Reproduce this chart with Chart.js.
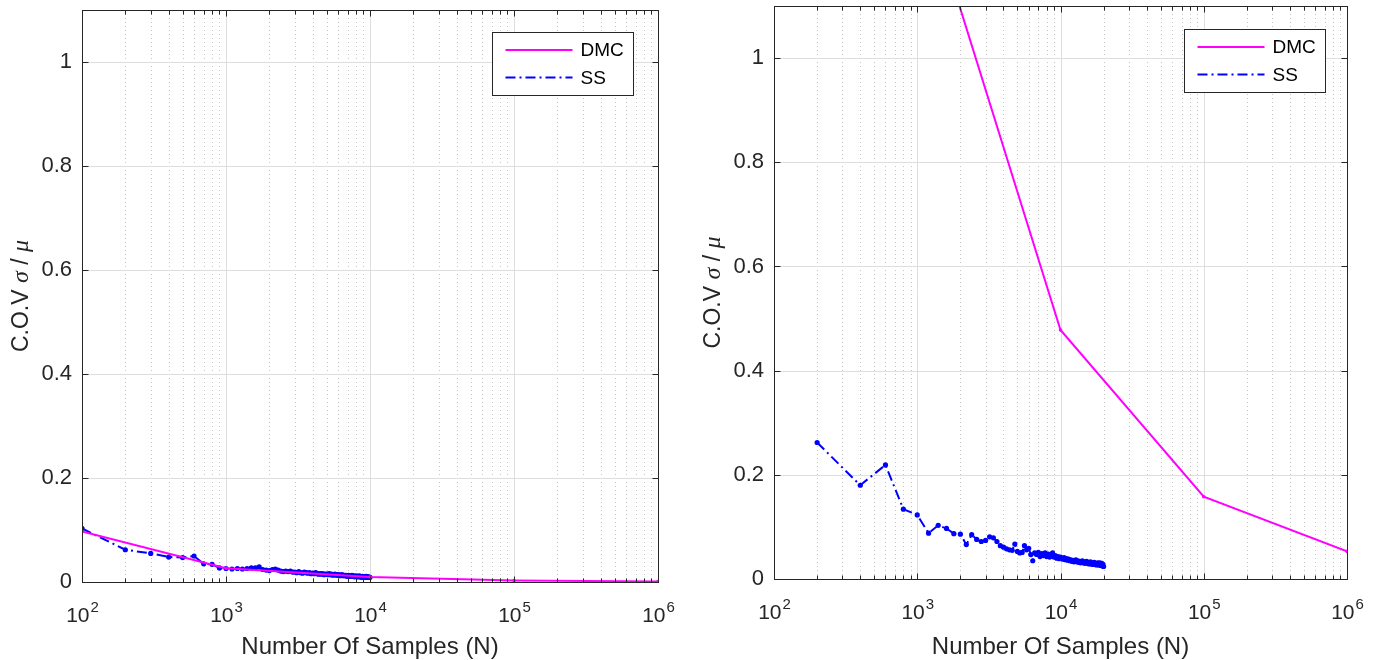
<!DOCTYPE html>
<html>
<head>
<meta charset="utf-8">
<title>C.O.V vs Number Of Samples</title>
<script src="https://cdn.jsdelivr.net/npm/chart.js@4.4.0/dist/chart.umd.min.js"></script>
<style>
  html, body { margin: 0; padding: 0; background: #fff; }
  #wrap { position: relative; width: 1379px; height: 660px; overflow: hidden; }
  canvas { position: absolute; top: 0; }
  #leftChart { left: 0; }
  #rightChart { left: 690px; }
</style>
</head>
<body>
<div id="wrap">
  <canvas id="leftChart" width="690" height="660"></canvas>
  <canvas id="rightChart" width="689" height="660"></canvas>
</div>
<script>
// Fonts / colours (MATLAB-ish defaults)
const FONT = "'Liberation Sans', Arial, Helvetica, sans-serif";
const MATH_FONT = "'Liberation Serif', 'Times New Roman', serif";
const AXIS_COLOR = '#262626';
const DMC_COLOR = '#ff00ff';
const SS_COLOR = '#0000ff';

// Axis ticks
const decades = [2, 3, 4, 5, 6];          // x ticks: 10^2 .. 10^6
const yTicks = [0, 0.2, 0.4, 0.6, 0.8, 1];
const seriesNames = ['DMC', 'SS'];
const xTitle = 'Number Of Samples (N)';

// ---- Left panel ----
const dmcLeftN = [100, 1000, 10000, 100000, 1000000];
const dmcLeftCov = [0.097, 0.0265, 0.0095, 0.003, 0.001];

const ssLeftN = [
    100, 200, 300, 400, 500, 600, 700, 800, 900, 1000,
    1100, 1200, 1300, 1400, 1500, 1600, 1700, 1800, 1900, 2000,
    2100, 2200, 2300, 2400, 2500, 2600, 2700, 2800, 2900, 3000,
    3100, 3200, 3300, 3400, 3500, 3600, 3700, 3800, 3900, 4000,
    4100, 4200, 4300, 4400, 4500, 4600, 4700, 4800, 4900, 5000,
    5100, 5200, 5300, 5400, 5500, 5600, 5700, 5800, 5900, 6000,
    6100, 6200, 6300, 6400, 6500, 6600, 6700, 6800, 6900, 7000,
    7100, 7200, 7300, 7400, 7500, 7600, 7700, 7800, 7900, 8000,
    8100, 8200, 8300, 8400, 8500, 8600, 8700, 8800, 8900, 9000,
    9100, 9200, 9300, 9400, 9500, 9600, 9700, 9800, 9900, 10000
];
const ssLeftCov = [
    0.103, 0.062, 0.055, 0.048, 0.047, 0.050, 0.035, 0.034, 0.027, 0.026,
    0.025, 0.026, 0.025, 0.026, 0.027, 0.027, 0.029, 0.024, 0.023, 0.022,
    0.024, 0.025, 0.023, 0.021, 0.020, 0.021, 0.020, 0.021, 0.019, 0.019,
    0.018, 0.020, 0.018, 0.017, 0.019, 0.018, 0.017, 0.018, 0.016, 0.017,
    0.016, 0.018, 0.016, 0.015, 0.016, 0.015, 0.016, 0.014, 0.015, 0.015,
    0.014, 0.016, 0.014, 0.015, 0.013, 0.014, 0.015, 0.013, 0.014, 0.013,
    0.014, 0.012, 0.013, 0.014, 0.012, 0.013, 0.012, 0.013, 0.011, 0.012,
    0.013, 0.011, 0.012, 0.011, 0.013, 0.011, 0.012, 0.010, 0.011, 0.012,
    0.010, 0.011, 0.010, 0.012, 0.010, 0.011, 0.009, 0.010, 0.011, 0.009,
    0.010, 0.009, 0.010, 0.011, 0.009, 0.010, 0.009, 0.010, 0.009, 0.009
];

// ---- Right panel ----
const dmcRightN = [1000, 10000, 100000, 1000000];
const dmcRightCov = [1.36, 0.478, 0.158, 0.053];

const ssRightN = [
    200, 400, 600, 800, 1000, 1200, 1400, 1600, 1800, 2000,
    2200, 2400, 2600, 2800, 3000, 3200, 3400, 3600, 3800, 4000,
    4200, 4400, 4600, 4800, 5000, 5200, 5400, 5600, 5800, 6000,
    6200, 6400, 6600, 6800, 7000, 7200, 7400, 7600, 7800, 8000,
    8200, 8400, 8600, 8800, 9000, 9200, 9400, 9600, 9800, 10000,
    10200, 10400, 10600, 10800, 11000, 11200, 11400, 11600, 11800, 12000,
    12200, 12400, 12600, 12800, 13000, 13200, 13400, 13600, 13800, 14000,
    14200, 14400, 14600, 14800, 15000, 15200, 15400, 15600, 15800, 16000,
    16200, 16400, 16600, 16800, 17000, 17200, 17400, 17600, 17800, 18000,
    18200, 18400, 18600, 18800, 19000, 19200, 19400, 19600, 19800, 20000
];
const ssRightCov = [
    0.262, 0.180, 0.219, 0.134, 0.123, 0.088, 0.103, 0.097, 0.087, 0.086,
    0.066, 0.085, 0.076, 0.072, 0.074, 0.081, 0.079, 0.072, 0.064, 0.061,
    0.058, 0.056, 0.055, 0.067, 0.053, 0.050, 0.051, 0.064, 0.056, 0.059,
    0.047, 0.035, 0.050, 0.047, 0.051, 0.043, 0.049, 0.045, 0.050, 0.043,
    0.048, 0.042, 0.046, 0.050, 0.042, 0.045, 0.040, 0.043, 0.039, 0.042,
    0.040, 0.038, 0.041, 0.037, 0.039, 0.036, 0.038, 0.035, 0.037, 0.034,
    0.036, 0.033, 0.035, 0.037, 0.033, 0.035, 0.032, 0.034, 0.031, 0.033,
    0.035, 0.031, 0.033, 0.030, 0.032, 0.034, 0.030, 0.032, 0.029, 0.031,
    0.033, 0.029, 0.031, 0.028, 0.030, 0.032, 0.028, 0.030, 0.027, 0.029,
    0.031, 0.027, 0.029, 0.031, 0.026, 0.028, 0.030, 0.025, 0.028, 0.024
];

function toPoints(xs, ys) {
    return xs.map((x, i) => ({ x: x, y: ys[i] }));
}

function strokeLine(ctx, x1, y1, x2, y2) {
    ctx.beginPath();
    ctx.moveTo(x1, y1);
    ctx.lineTo(x2, y2);
    ctx.stroke();
}

// all x tick values: majors 10^d plus minors m*10^d
function xTickValues() {
    const vals = [];
    decades.forEach((d, i) => {
        vals.push({ v: Math.pow(10, d), major: true });
        if (i < decades.length - 1) {
            for (let m = 2; m <= 9; m++) vals.push({ v: m * Math.pow(10, d), major: false });
        }
    });
    return vals;
}

/**
 * Draws the MATLAB look: dotted minor grid, inward ticks, box,
 * superscript tick labels, axis titles and the legend box
 */
const matlabAxes = {
    id: 'matlabAxes',
    beforeDatasetsDraw(chart) {
        const { ctx, chartArea: a, scales: { x, y } } = chart;
        ctx.save();
        ctx.lineWidth = 1;
        // minor x grid (dotted)
        ctx.strokeStyle = '#c4c4c4';
        ctx.setLineDash([1, 3]);
        xTickValues().filter(t => !t.major).forEach(t => {
            const px = Math.round(x.getPixelForValue(t.v)) + 0.5;
            strokeLine(ctx, px, a.top, px, a.bottom);
        });
        // major grid (solid)
        ctx.setLineDash([]);
        ctx.strokeStyle = '#dedede';
        xTickValues().filter(t => t.major).forEach(t => {
            const px = Math.round(x.getPixelForValue(t.v)) + 0.5;
            strokeLine(ctx, px, a.top, px, a.bottom);
        });
        yTicks.forEach(v => {
            const py = Math.round(y.getPixelForValue(v)) + 0.5;
            strokeLine(ctx, a.left, py, a.right, py);
        });
        ctx.restore();
    },
    afterDatasetsDraw(chart) {
        const { ctx, chartArea: a, scales: { x, y } } = chart;
        const L = Math.round(a.left) + 0.5, R = Math.round(a.right) + 0.5;
        const T = Math.round(a.top) + 0.5, B = Math.round(a.bottom) + 0.5;
        ctx.save();
        ctx.strokeStyle = AXIS_COLOR;
        ctx.lineWidth = 1;
        ctx.strokeRect(L, T, R - L, B - T);
        // inward ticks on all four sides
        xTickValues().forEach(t => {
            const px = Math.round(x.getPixelForValue(t.v)) + 0.5;
            const len = t.major ? 6 : 4;
            strokeLine(ctx, px, B, px, B - len);
            strokeLine(ctx, px, T, px, T + len);
        });
        yTicks.forEach(v => {
            const py = Math.round(y.getPixelForValue(v)) + 0.5;
            strokeLine(ctx, L, py, L + 6, py);
            strokeLine(ctx, R, py, R - 6, py);
        });
        ctx.restore();
    },
    afterDraw(chart, args, opts) {
        const { ctx, chartArea: a, scales: { x } } = chart;
        ctx.save();
        ctx.fillStyle = AXIS_COLOR;

        // x tick labels: 10 with superscript exponent
        decades.forEach(d => {
            const px = x.getPixelForValue(Math.pow(10, d));
            ctx.font = '21px ' + FONT;
            const wBase = ctx.measureText('10').width;
            ctx.font = '15px ' + FONT;
            const wExp = ctx.measureText(String(d)).width;
            const x0 = px - (wBase + wExp) / 2;
            ctx.textAlign = 'left';
            ctx.textBaseline = 'alphabetic';
            ctx.font = '21px ' + FONT;
            ctx.fillText('10', x0, a.bottom + 40);
            ctx.font = '15px ' + FONT;
            ctx.fillText(String(d), x0 + wBase + 1, a.bottom + 30);
        });

        // x axis title
        ctx.font = '24px ' + FONT;
        ctx.textAlign = 'center';
        ctx.fillText(xTitle, (a.left + a.right) / 2, chart.height - 6);

        // y axis title: C.O.V sigma / mu (greek in italic)
        const parts = [
            ['C.O.V ', '23px ' + FONT],
            ['\u03C3', 'italic 24px ' + MATH_FONT],
            [' / ', '23px ' + FONT],
            ['\u03BC', 'italic 24px ' + MATH_FONT]
        ];
        ctx.save();
        ctx.translate(a.left - 62, (a.top + a.bottom) / 2);
        ctx.rotate(-Math.PI / 2);
        let total = 0;
        parts.forEach(p => { ctx.font = p[1]; total += ctx.measureText(p[0]).width; });
        let cx = -total / 2;
        ctx.textAlign = 'left';
        parts.forEach(p => {
            ctx.font = p[1];
            ctx.fillText(p[0], cx, 8);
            cx += ctx.measureText(p[0]).width;
        });
        ctx.restore();

        // legend box
        const bw = 141, bh = 63;
        const bx = Math.round(a.right - opts.legendRight - bw) + 0.5;
        const by = Math.round(a.top + opts.legendTop) + 0.5;
        ctx.fillStyle = '#ffffff';
        ctx.fillRect(bx, by, bw, bh);
        ctx.strokeStyle = AXIS_COLOR;
        ctx.lineWidth = 1;
        ctx.strokeRect(bx, by, bw, bh);
        const rows = [
            { name: seriesNames[0], color: DMC_COLOR, dash: [], width: 2, y: by + 17.5 },
            { name: seriesNames[1], color: SS_COLOR, dash: [10, 4, 2, 4], width: 2, y: by + 45 }
        ];
        rows.forEach(r => {
            ctx.strokeStyle = r.color;
            ctx.lineWidth = r.width;
            ctx.setLineDash(r.dash);
            strokeLine(ctx, bx + 13, r.y, bx + 80, r.y);
            ctx.setLineDash([]);
            ctx.fillStyle = '#000000';
            ctx.font = '19px ' + FONT;
            ctx.textAlign = 'left';
            ctx.textBaseline = 'middle';
            ctx.fillText(r.name, bx + 88, r.y + 1);
        });
        ctx.restore();
    }
};

function makeChart(canvasId, dmcN, dmcCov, ssN, ssCov, geo) {
    const ctx = document.getElementById(canvasId);
    return new Chart(ctx.getContext('2d'), {
        type: 'line',
        data: {
            datasets: [
                {
                    label: seriesNames[0],
                    data: toPoints(dmcN, dmcCov),
                    borderColor: DMC_COLOR,
                    backgroundColor: DMC_COLOR,
                    borderWidth: 2,
                    pointRadius: 1.8,
                    pointBorderWidth: 0,
                    tension: 0,
                    fill: false
                },
                {
                    label: seriesNames[1],
                    data: toPoints(ssN, ssCov),
                    borderColor: SS_COLOR,
                    backgroundColor: SS_COLOR,
                    borderWidth: 2,
                    borderDash: [10, 4, 2, 4],
                    pointRadius: 2.6,
                    pointBorderWidth: 0,
                    tension: 0,
                    fill: false
                }
            ]
        },
        options: {
            responsive: false,
            animation: false,
            devicePixelRatio: 1,
            layout: {
                padding: { left: 0, right: geo.padRight, top: geo.padTop, bottom: 0 }
            },
            scales: {
                x: {
                    type: 'logarithmic',
                    position: 'bottom',
                    min: 100,
                    max: 1000000,
                    ticks: { display: false },
                    grid: { display: false, drawTicks: false },
                    border: { display: false },
                    afterFit: function(scale) {
                        scale.height = geo.xHeight;
                        scale.paddingLeft = 0;
                        scale.paddingRight = 0;
                    }
                },
                y: {
                    type: 'linear',
                    min: 0,
                    max: 1.1,
                    ticks: {
                        stepSize: 0.2,
                        padding: 10,
                        color: AXIS_COLOR,
                        font: { family: FONT, size: 22 },
                        callback: function(value) {
                            if (value === 0) return '0';
                            if (Math.abs(value - 1) < 1e-6) return '1';
                            return value.toFixed(1);
                        }
                    },
                    grid: { display: false, drawTicks: false },
                    border: { display: false },
                    afterBuildTicks: function(scale) {
                        scale.ticks = yTicks.map(v => ({ value: v }));
                    },
                    afterFit: function(scale) {
                        scale.width = geo.yWidth;
                        scale.paddingTop = 0;
                        scale.paddingBottom = 0;
                    }
                }
            },
            plugins: {
                legend: { display: false },
                tooltip: { enabled: false },
                matlabAxes: { legendRight: geo.legendRight, legendTop: geo.legendTop }
            }
        },
        plugins: [matlabAxes]
    });
}

makeChart('leftChart', dmcLeftN, dmcLeftCov, ssLeftN, ssLeftCov,
    { padRight: 32, padTop: 10, xHeight: 78, yWidth: 82, legendRight: 25, legendTop: 22 });
makeChart('rightChart', dmcRightN, dmcRightCov, ssRightN, ssRightCov,
    { padRight: 32, padTop: 6, xHeight: 81, yWidth: 84, legendRight: 22, legendTop: 23 });
</script>
</body>
</html>
